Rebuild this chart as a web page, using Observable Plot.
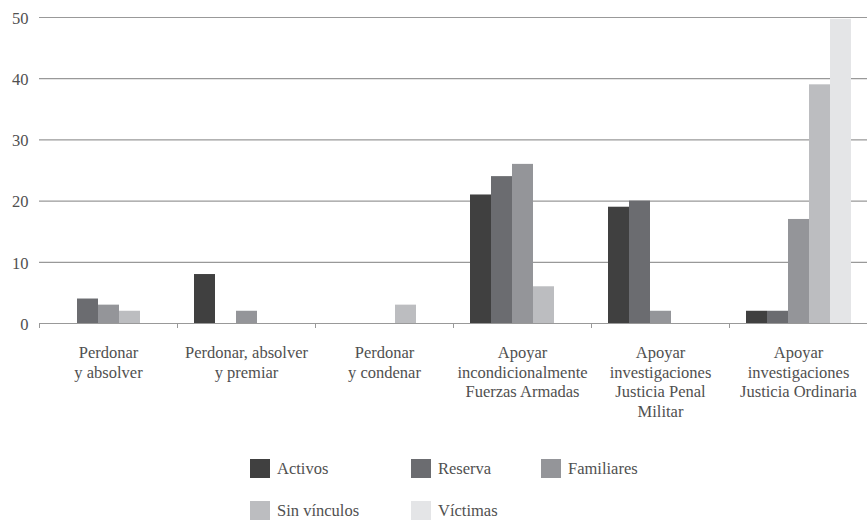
<!DOCTYPE html>
<html>
<head>
<meta charset="utf-8">
<script src="https://cdn.jsdelivr.net/npm/d3@7"></script>
<script src="https://cdn.jsdelivr.net/npm/@observablehq/plot@0.6"></script>
<style>
  html, body { margin: 0; padding: 0; background: #fff; }
  #wrap { position: relative; width: 867px; height: 520px; overflow: hidden; font-family: 'Liberation Serif', 'Times New Roman', 'DejaVu Serif', serif; color: #505050; }
  #wrap svg, #wrap svg text { font-family: 'Liberation Serif', 'Times New Roman', 'DejaVu Serif', serif !important; }
  .item { position: absolute; height: 19px; line-height: 19px; font-size: 16.5px; white-space: nowrap; }
  .sw { position: absolute; left: 0; top: 0; width: 20px; height: 19px; }
  .lab { position: absolute; left: 27px; top: 0; }
</style>
</head>
<body>
<div id="wrap"></div>
<script>
const categories = [
  "Perdonar\ny absolver",
  "Perdonar, absolver\ny premiar",
  "Perdonar\ny condenar",
  "Apoyar\nincondicionalmente\nFuerzas Armadas",
  "Apoyar\ninvestigaciones\nJusticia Penal\nMilitar",
  "Apoyar\ninvestigaciones\nJusticia Ordinaria"
];
const series = ["Activos", "Reserva", "Familiares", "Sin vínculos", "Víctimas"];
const activos     = [0, 8, 0, 21, 19, 2];
const reserva     = [4, 0, 0, 24, 20, 2];
const familiares  = [3, 2, 0, 26, 2, 17];
const sinVinculos = [2, 0, 3, 6, 0, 39];
const victimas    = [0, 0, 0, 0, 0, 49.7];
const yTicks = [0, 10, 20, 30, 40, 50];
const colors = ["#404040", "#6b6c70", "#949599", "#bcbdc0", "#e4e5e7"];

const seriesValues = [activos, reserva, familiares, sinVinculos, victimas];
const data = [];
categories.forEach((c, i) => {
  series.forEach((s, j) => {
    const v = seriesValues[j][i];
    if (v > 0) data.push({category: c, series: s, value: v});
  });
});

const W = 867, H = 440;
const FONT = "'Liberation Serif', 'Times New Roman', 'DejaVu Serif', serif";

const boundaryTicks = (index, scales, values, dimensions) => {
  const g = d3.create("svg:g");
  const y0 = dimensions.height - dimensions.marginBottom;
  g.append("line")
    .attr("x1", dimensions.marginLeft + 0.5).attr("x2", dimensions.marginLeft + 0.5)
    .attr("y1", y0).attr("y2", y0 + 5)
    .attr("stroke", "#999").attr("stroke-width", 1);
  return g.node();
};

const chart = Plot.plot({
  width: W,
  height: H,
  marginLeft: 38,
  marginRight: 0,
  marginTop: 17,
  marginBottom: 117,
  style: {fontFamily: FONT, fontSize: "16.5px", color: "#505050", background: "white"},
  fx: {domain: categories, padding: 0, axis: null, label: null},
  x: {domain: series, paddingInner: 0, paddingOuter: 0.72, axis: null, label: null},
  y: {domain: [0, 50], axis: null, label: null},
  color: {domain: series, range: colors},
  marks: [
    Plot.gridY(yTicks, {stroke: "#999", strokeOpacity: 1, strokeWidth: 1.2}),
    Plot.barY(data, {fx: "category", x: "series", y: "value", fill: "series"}),
    boundaryTicks,
    Plot.axisY(yTicks, {anchor: "left", tickSize: 0, tickPadding: 11, fontSize: 16.5, dy: 1, label: null, tickFormat: d => String(d)}),
    Plot.axisFx({anchor: "bottom", tickSize: 0, tickPadding: 21, fontSize: 16.5, lineHeight: 1.18, label: null})
  ]
});

const wrap = document.getElementById("wrap");
wrap.appendChild(chart);

const legendPos = [
  [250, 459], [411, 459], [541, 459],
  [250, 501], [411, 501]
];
series.forEach((s, i) => {
  const it = document.createElement("div");
  it.className = "item";
  it.style.left = legendPos[i][0] + "px";
  it.style.top = legendPos[i][1] + "px";
  const sw = document.createElement("div");
  sw.className = "sw";
  sw.style.background = colors[i];
  const lab = document.createElement("span");
  lab.className = "lab";
  lab.textContent = s;
  it.appendChild(sw);
  it.appendChild(lab);
  wrap.appendChild(it);
});
</script>
</body>
</html>
